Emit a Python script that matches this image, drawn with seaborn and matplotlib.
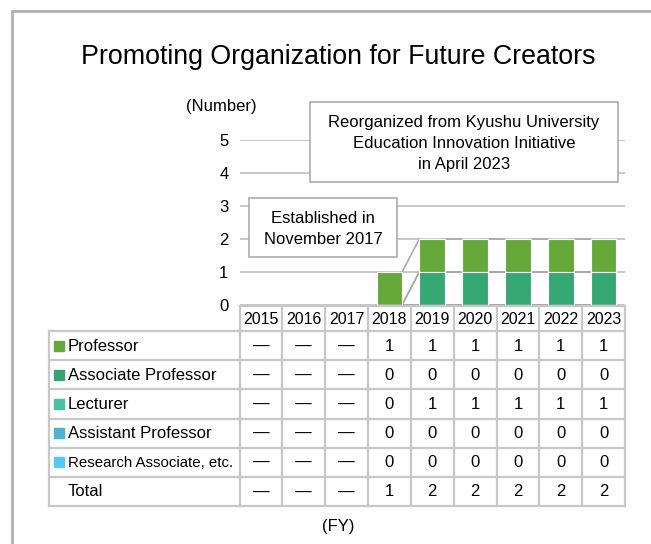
import numpy as np
import matplotlib.pyplot as plt
import matplotlib.patches as mpatches
import matplotlib.lines as mlines
import seaborn as sns

# ---- data (None = organisation did not exist yet, shown as a dash) ----
years = ["2015", "2016", "2017", "2018", "2019", "2020", "2021", "2022", "2023"]
professor = [None, None, None, 1, 1, 1, 1, 1, 1]
associate_prof = [None, None, None, 0, 0, 0, 0, 0, 0]
lecturer = [None, None, None, 0, 1, 1, 1, 1, 1]
assistant_prof = [None, None, None, 0, 0, 0, 0, 0, 0]
research_assoc = [None, None, None, 0, 0, 0, 0, 0, 0]

row_names = ["Professor", "Associate Professor", "Lecturer",
             "Assistant Professor", "Research Associate, etc."]
legend_colors = ["#66a83a", "#37a46f", "#47c2a5", "#4bb2d0", "#55c8f6"]
bar_colors = ["#66a83a", "#37a46f", "#36a874", "#4bb2d0", "#55c8f6"]
yticks = [0, 1, 2, 3, 4, 5]

title = "Promoting Organization for Future Creators"
note_top = "Reorganized from Kyushu University\nEducation Innovation Initiative\nin April 2023"
note_est = "Established in\nNovember 2017"

rows = [professor, associate_prof, lecturer, assistant_prof, research_assoc]


def to_arr(v):
    return np.array([np.nan if x is None else x for x in v], dtype=float)


totals = np.nansum([to_arr(r) for r in rows], axis=0)
totals = [None if professor[i] is None else int(totals[i]) for i in range(len(years))]

# ---- figure setup, everything laid out in pixels ----
W, H = 651, 544
sns.set_style("white")
plt.rcParams["font.family"] = ["Liberation Sans", "DejaVu Sans"]
plt.rcParams["text.color"] = "black"
plt.rcParams["ytick.color"] = "black"

fig = plt.figure(figsize=(W / 100, H / 100), dpi=100)


def box(l, t, r, b):
    return [l / W, 1 - b / H, (r - l) / W, (b - t) / H]


def fx(x):
    return x / W


def fy(y):
    return 1 - y / H


ax_l, ax_r = 239.5, 625
col_w = (ax_r - ax_l) / len(years)
ax = fig.add_axes(box(ax_l, 140, ax_r, 304.6))

# stacked bars: stack bottom->top is research, assistant, lecturer, associate, professor
stack = list(range(len(rows)))[::-1]  # indices bottom -> top
cums = {}
run = np.zeros(len(years))
for k in stack:
    run = run + np.nan_to_num(to_arr(rows[k]))
    c = run.copy()
    c[np.isnan(to_arr(rows[k]))] = np.nan
    cums[k] = c

# draw tallest cumulative first so lower segments sit on top of it
for k in stack[::-1]:
    sns.barplot(x=years, y=cums[k], order=years, color=bar_colors[k],
                saturation=1, width=0.6, edgecolor="white", linewidth=0.8,
                ax=ax, zorder=2)

# series lines connecting bar tops
for k in stack:
    c = cums[k]
    for i in range(len(years) - 1):
        if np.isnan(c[i]) or np.isnan(c[i + 1]):
            continue
        ax.plot([i + 0.3, i + 0.7], [c[i], c[i + 1]], color="#a6a6a6",
                lw=1.1, zorder=1.5)

ax.set_xlim(-0.5, len(years) - 0.5)
ax.set_ylim(0, 5)
ax.set_yticks(yticks)
ax.yaxis.grid(True, color="#c4c4c4", lw=1.3)
ax.xaxis.grid(False)
ax.set_axisbelow(True)
ax.tick_params(axis="x", labelbottom=False, length=0)
ax.tick_params(axis="y", length=0, pad=8, labelsize=12)
ax.set_xlabel("")
ax.set_ylabel("")
for s in ax.spines.values():
    s.set_visible(False)

# ---- data table below the bars ----
tab_l, tab_t, tab_b = 49, 306, 506
label_w = (ax_l - tab_l) / col_w
row_h_px = (tab_b - tab_t - 25) / len(rows + [totals])
hh = 25 / row_h_px
n_rows = len(rows) + 1
tab = fig.add_axes(box(tab_l, tab_t, ax_r, tab_b))
tab.set_xlim(-0.5 - label_w, len(years) - 0.5)
tab.set_ylim(hh + n_rows, 0)
tab.axis("off")

lc, lw = "#c8c8c8", 1.6
left = -0.5 - label_w
right = len(years) - 0.5
kw = dict(color=lc, lw=lw, clip_on=False, solid_capstyle="projecting", zorder=3)
tab.plot([-0.5, right], [0, 0], **kw)
for r in range(n_rows + 1):
    tab.plot([left, right], [hh + r, hh + r], **kw)
tab.plot([left, left], [hh, hh + n_rows], **kw)
for j in range(len(years) + 1):
    tab.plot([j - 0.5, j - 0.5], [0, hh + n_rows], **kw)

for j, yr in enumerate(years):
    tab.text(j, hh / 2 + 0.03, yr, ha="center", va="center", fontsize=11.5)

all_rows = rows + [totals]
for r, vals in enumerate(all_rows):
    yc = hh + r + 0.5
    if r < len(rows):
        sq = 10 / col_w
        tab.add_patch(mpatches.Rectangle((left + 5 / col_w, yc - 0.5 * 10 / row_h_px),
                                         sq, 10 / row_h_px, color=legend_colors[r],
                                         clip_on=False))
        name = row_names[r]
    else:
        name = "Total"
    fs = 10.8 if name.startswith("Research") else 12
    tab.text(left + 18.5 / col_w, yc + 0.02, name, ha="left", va="center",
             fontsize=fs)
    for j, v in enumerate(vals):
        tab.text(j, yc + 0.02, "—" if v is None else str(v), ha="center",
                 va="center", fontsize=12)

# ---- texts and call-out boxes ----
fig.text(fx(338), fy(64.3), title, ha="center", va="baseline", fontsize=19.3)
fig.text(fx(221), fy(107), "(Number)", ha="center", va="center", fontsize=12)
fig.text(fx(338), fy(527), "(FY)", ha="center", va="center", fontsize=12)

fig.add_artist(mpatches.Rectangle((fx(310), fy(181.7)), (617.7 - 310) / W,
                                  (181.7 - 101.7) / H, transform=fig.transFigure,
                                  facecolor="white", edgecolor="#a6a6a6", lw=1.1))
fig.text(fx(464), fy(143.5), note_top, ha="center", va="center", fontsize=12,
         linespacing=1.5)
fig.add_artist(mpatches.Rectangle((fx(249), fy(256.7)), (396.7 - 249) / W,
                                  (256.7 - 198) / H, transform=fig.transFigure,
                                  facecolor="white", edgecolor="#a6a6a6", lw=1.1))
fig.text(fx(323), fy(229), note_est, ha="center", va="center", fontsize=12,
         linespacing=1.55)

# outer frame (left and top edge only are visible)
fig.add_artist(mlines.Line2D([fx(12), fx(12)], [fy(11), 0], color="#b0b0b0", lw=2))
fig.add_artist(mlines.Line2D([fx(12), 1], [fy(11), fy(11)], color="#b0b0b0", lw=2))

fig.savefig("out.png", dpi=100)
